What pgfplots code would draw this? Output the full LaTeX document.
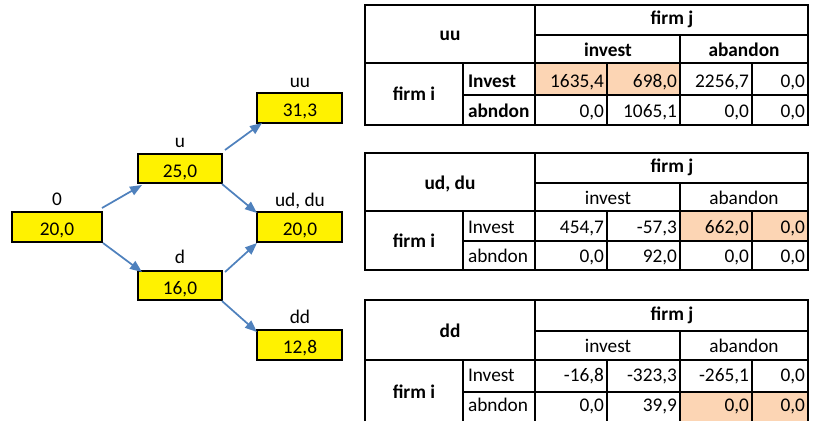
\documentclass[border=0pt]{standalone}
\usepackage{pgfplots}
\pgfplotsset{compat=1.18}
\usepackage{fontspec}
\setmainfont{Carlito}
\usetikzlibrary{arrows.meta}
\definecolor{peach}{HTML}{FCD5B4}
\definecolor{arr}{HTML}{4F81BD}
\pgfplotsset{
  lbl/.style 2 args={draw=none, nodes near coords, point meta=explicit symbolic,
    every node near coord/.append style={anchor=#1, inner sep=0pt, outer sep=0pt, text=black,
      font=\fontsize{14.5}{17}\selectfont#2}},
  box/.style={fill=yellow, draw=black, line width=1.5pt},
  tk/.style={black, line width=1.9pt},
  md/.style={black, line width=1.4pt},
  tn/.style={black, line width=0.8pt},
  ar/.style={arr, line width=1.3pt, -{Triangle[length=9pt, width=7pt]}},
}
\begin{document}
\begin{tikzpicture}
\begin{axis}[
  scale only axis, width=611.25pt, height=315.75pt,
  xmin=0, xmax=815, ymin=0, ymax=421, y dir=reverse,
  hide axis, clip=false, enlargelimits=false,
]
\addplot[draw=none] coordinates {(0,0)(815,421)};
% ---------- tree ----------
\addplot[box] coordinates {(12,212)(102,212)(102,242)(12,242)} -- cycle;
\addplot[box] coordinates {(138,154)(222,154)(222,183)(138,183)} -- cycle;
\addplot[box] coordinates {(138,271)(222,271)(222,300)(138,300)} -- cycle;
\addplot[box] coordinates {(257,93)(342,93)(342,123)(257,123)} -- cycle;
\addplot[box] coordinates {(257,212)(342,212)(342,242)(257,242)} -- cycle;
\addplot[box] coordinates {(257,330)(342,330)(342,360)(257,360)} -- cycle;
\addplot[ar] coordinates {(102,208)(142,185)};
\addplot[ar] coordinates {(103,243)(142,272)};
\addplot[ar] coordinates {(225,150)(262,123)};
\addplot[ar] coordinates {(222,184)(257,213)};
\addplot[ar] coordinates {(225,272)(257,243)};
\addplot[ar] coordinates {(222,301)(257,332)};
% ---------- highlighted cells ----------
\addplot[fill=peach, draw=none] coordinates {(535,63)(680,63)(680,95)(535,95)} -- cycle;
\addplot[fill=peach, draw=none] coordinates {(680,211)(808,211)(808,241)(680,241)} -- cycle;
\addplot[fill=peach, draw=none] coordinates {(680,392)(808,392)(808,421)(680,421)} -- cycle;
% ---------- table uu ----------
\addplot[tk] coordinates {(365,5)(808,5)(808,125)(365,125)} -- cycle;
\addplot[tk] coordinates {(535,5)(535,125)};
\addplot[md] coordinates {(365,63)(808,63)};
\addplot[md] coordinates {(535,35)(808,35)};
\addplot[md] coordinates {(463,95)(808,95)};
\addplot[md] coordinates {(463,63)(463,125)};
\addplot[md] coordinates {(680,35)(680,125)};
\addplot[tn] coordinates {(607,63)(607,125)};
\addplot[tn] coordinates {(752,63)(752,125)};
% ---------- table ud, du ----------
\addplot[tk] coordinates {(365,153)(808,153)(808,270)(365,270)} -- cycle;
\addplot[tk] coordinates {(535,153)(535,270)};
\addplot[md] coordinates {(365,211)(808,211)};
\addplot[md] coordinates {(535,183)(808,183)};
\addplot[md] coordinates {(463,241)(808,241)};
\addplot[md] coordinates {(463,211)(463,270)};
\addplot[md] coordinates {(680,183)(680,270)};
\addplot[tn] coordinates {(607,211)(607,270)};
\addplot[tn] coordinates {(752,211)(752,270)};
% ---------- table dd ----------
\addplot[tk] coordinates {(365,421)(365,300)(808,300)(808,421)};
\addplot[tk] coordinates {(535,300)(535,421)};
\addplot[md] coordinates {(365,360)(808,360)};
\addplot[md] coordinates {(535,331)(808,331)};
\addplot[md] coordinates {(463,392)(808,392)};
\addplot[md] coordinates {(463,360)(463,421)};
\addplot[md] coordinates {(680,331)(680,421)};
\addplot[tn] coordinates {(607,360)(607,421)};
\addplot[tn] coordinates {(752,360)(752,421)};
% ---------- texts ----------
\addplot[lbl={base}{}] table[col sep=semicolon, meta=t] {
x;y;t
57;205;0
180;147;u
180;263;d
300;87;uu
300;206;ud, du
300;323;dd
57;235;20,0
180;177;25,0
180;294;16,0
300;116;31,3
300;235;20,0
300;353;12,8
608;204;invest
744;204;abandon
608;352;invest
744;352;abandon
};
\addplot[lbl={base}{\bfseries}] table[col sep=semicolon, meta=t] {
x;y;t
450;40;uu
672;24;firm j
608;56;invest
744;56;abandon
414;100;firm i
450;189;ud, du
672;172;firm j
414;247;firm i
450;337;dd
672;320;firm j
414;398;firm i
};
\addplot[lbl={base west}{\bfseries}] table[col sep=semicolon, meta=t] {
x;y;t
468;87;Invest
468;117;abndon
};
\addplot[lbl={base west}{}] table[col sep=semicolon, meta=t] {
x;y;t
468;233;Invest
468;262;abndon
468;381;Invest
468;411;abndon
};
\addplot[lbl={base east}{}] table[col sep=semicolon, meta=t] {
x;y;t
604;87;1635,4
677;87;698,0
749;87;2256,7
805;87;0,0
604;117;0,0
677;117;1065,1
749;117;0,0
805;117;0,0
604;233;454,7
677;233;-57,3
749;233;662,0
805;233;0,0
604;262;0,0
677;262;92,0
749;262;0,0
805;262;0,0
604;381;-16,8
677;381;-323,3
749;381;-265,1
805;381;0,0
604;411;0,0
677;411;39,9
749;411;0,0
805;411;0,0
};
\end{axis}
\end{tikzpicture}
\end{document}
